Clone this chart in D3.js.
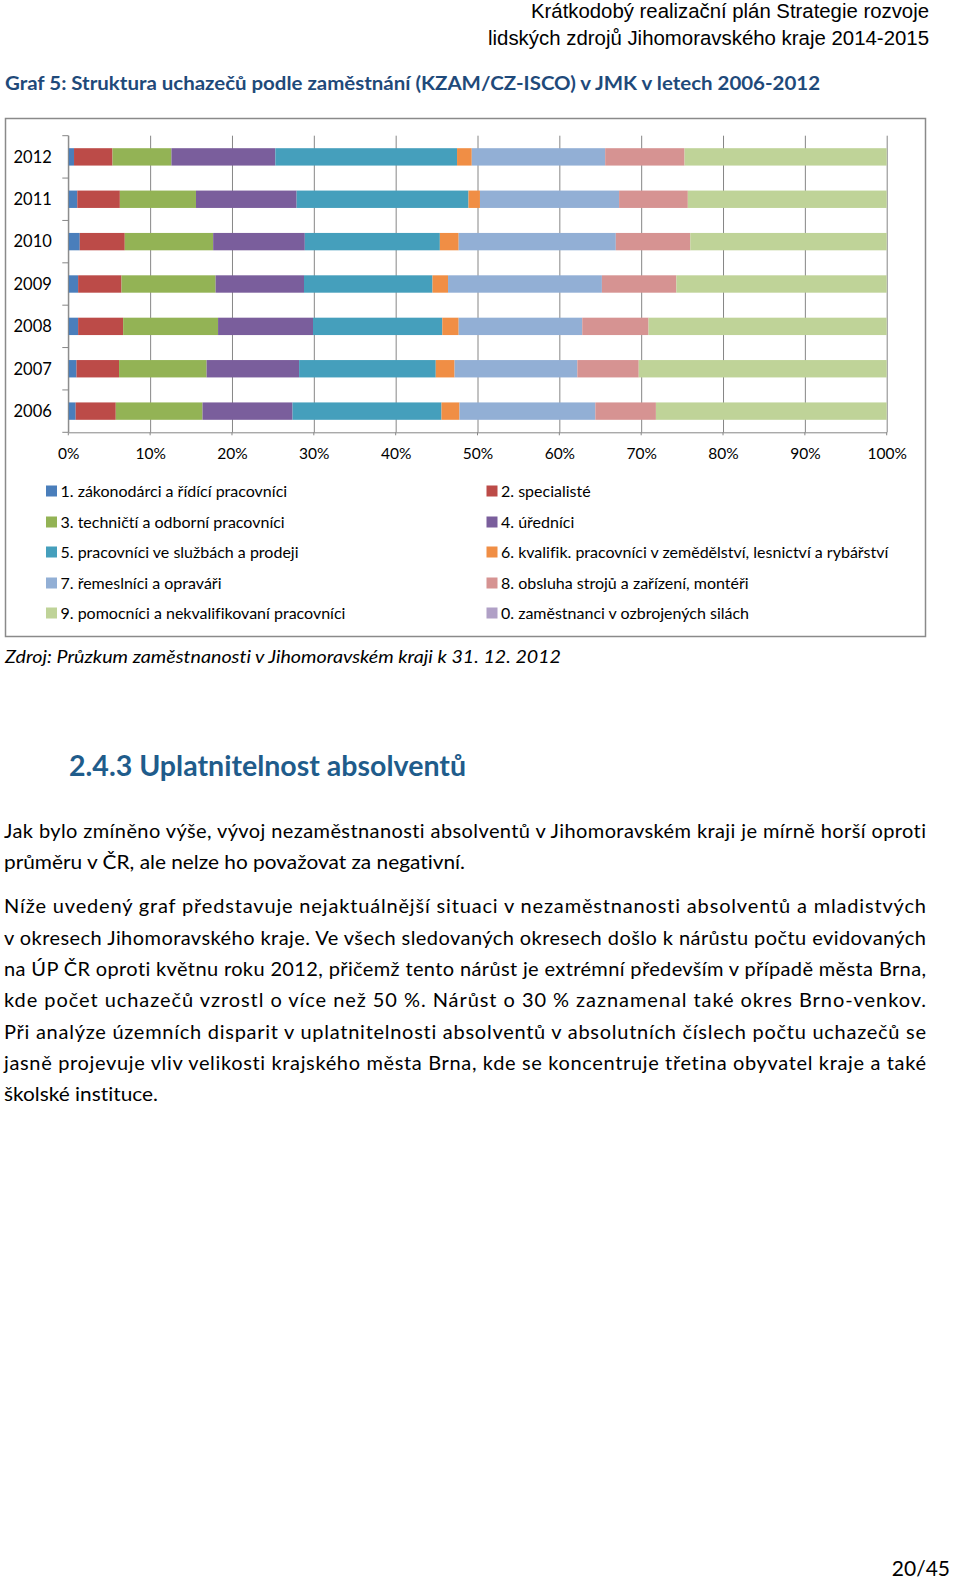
<!DOCTYPE html>
<html><head><meta charset="utf-8">
<script src="https://cdn.jsdelivr.net/npm/d3@7"></script>
<style>body{margin:0;background:#fff} svg{display:block} text{font-variant-ligatures:none;font-feature-settings:"liga" 0,"clig" 0}</style>
</head><body>
<svg id="page" width="960" height="1582"></svg>
<script>
// ---------- DATA ----------
const years = ["2006","2007","2008","2009","2010","2011","2012"];
const s1 = [0.9, 1.0, 1.2, 1.2, 1.4, 1.1, 0.7];
const s2 = [4.9, 5.2, 5.5, 5.3, 5.5, 5.2, 4.7];
const s3 = [10.6, 10.7, 11.6, 11.5, 10.8, 9.3, 7.2];
const s4 = [11.0, 11.3, 11.6, 10.8, 11.2, 12.3, 12.7];
const s5 = [18.2, 16.7, 15.8, 15.7, 16.5, 21.0, 22.2];
const s6 = [2.2, 2.3, 2.0, 1.9, 2.3, 1.4, 1.8];
const s7 = [16.6, 15.0, 15.1, 18.8, 19.2, 17.0, 16.3];
const s8 = [7.4, 7.5, 8.1, 9.1, 9.1, 8.4, 9.7];
const s9 = [28.2, 30.3, 29.1, 25.7, 24.0, 24.3, 24.7];
const s0 = [0, 0, 0, 0, 0, 0, 0];
const seriesNames = [
  "1. zákonodárci a řídící pracovníci",
  "2. specialisté",
  "3. techničtí a odborní pracovníci",
  "4. úředníci",
  "5. pracovníci ve službách a prodeji",
  "6. kvalifik. pracovníci v zemědělství, lesnictví a rybářství",
  "7. řemeslníci a opraváři",
  "8. obsluha strojů a zařízení, montéři",
  "9. pomocníci a nekvalifikovaní pracovníci",
  "0. zaměstnanci  v ozbrojených silách"
];
const seriesColors = ["#4A7EBB","#BC4B48","#93B355","#7A5E9C","#459FBC","#F08E45","#92AFD5","#D69392","#BFD398","#B0A0C6"];
const xTicks = [0,0.1,0.2,0.3,0.4,0.5,0.6,0.7,0.8,0.9,1.0];

const headerLines = ["Krátkodobý realizační plán Strategie rozvoje","lidských zdrojů Jihomoravského kraje 2014-2015"];
const chartTitle = "Graf 5: Struktura uchazečů podle zaměstnání (KZAM/CZ-ISCO) v JMK v letech 2006-2012";
const sourceText = "Zdroj: Průzkum zaměstnanosti v Jihomoravském kraji k 31. 12. 2012";
const heading = "2.4.3 Uplatnitelnost absolventů";
const bodyLines = [
  "Jak bylo zmíněno výše, vývoj nezaměstnanosti absolventů v Jihomoravském kraji je mírně horší oproti",
  "průměru v ČR, ale nelze ho považovat za negativní.",
  "Níže uvedený graf představuje nejaktuálnější situaci v nezaměstnanosti absolventů a mladistvých",
  "v okresech Jihomoravského kraje. Ve všech sledovaných okresech došlo k nárůstu počtu evidovaných",
  "na ÚP ČR oproti květnu roku 2012, přičemž tento nárůst je extrémní především v případě města Brna,",
  "kde počet uchazečů vzrostl o více než 50 %. Nárůst o 30 % zaznamenal také okres Brno-venkov.",
  "Při analýze územních disparit v uplatnitelnosti absolventů v absolutních číslech počtu uchazečů se",
  "jasně projevuje vliv velikosti krajského města Brna, kde se koncentruje třetina obyvatel kraje a také",
  "školské instituce."
];
const pageNumber = "20/45";

// ---------- BUILD ----------
const svg = d3.select("#page");
const bodyFont = "Lato, 'Open Sans', sans-serif";

function txt(x, y, s, o) {
  const t = svg.append("text").attr("x", x).attr("y", y).text(s)
    .attr("font-family", o.ff || bodyFont)
    .attr("font-size", o.fs)
    .attr("fill", o.fill || "#000");
  if (o.fw) t.attr("font-weight", o.fw);
  if (o.fst) t.attr("font-style", o.fst);
  if (o.anchor) t.attr("text-anchor", o.anchor);
  if (o.len) t.attr("textLength", o.len).attr("lengthAdjust", o.adj || "spacingAndGlyphs");
  return t;
}

// header
const narrow = "'Liberation Sans Narrow', 'Arial Narrow', 'Liberation Sans', sans-serif";
txt(929, 18, headerLines[0], {ff: narrow, fs: 20.5, anchor: "end", len: 398});
txt(929, 45, headerLines[1], {ff: narrow, fs: 20.5, anchor: "end", len: 441});

// title
txt(5, 90, chartTitle, {fs: 19, fw: "bold", fill: "#1F4A7A", len: 815});

// chart frame
svg.append("rect").attr("x", 5.5).attr("y", 118.5).attr("width", 920).attr("height", 518)
  .attr("fill", "#fff").attr("stroke", "#8a8a8a").attr("stroke-width", 1.5);

const plotTop = 135.7, plotBottom = 432.3, plotLeft = 68.3, plotRight = 886.7;
const x = d3.scaleLinear().domain([0, 1]).range([plotLeft, plotRight]);
const yOrder = years.slice().reverse();
const y = d3.scaleBand().domain(yOrder).range([plotTop, plotBottom]).paddingInner(0.59).paddingOuter(0.295);

// table
const keys = ["1","2","3","4","5","6","7","8","9","0"];
const seriesArr = [s1,s2,s3,s4,s5,s6,s7,s8,s9,s0];
const table = years.map((yr, i) => {
  const row = {year: yr};
  keys.forEach((k, j) => row[k] = seriesArr[j][i]);
  return row;
});
const stack = d3.stack().keys(keys).offset(d3.stackOffsetExpand);
const stacked = stack(table);

// gridlines + bottom axis
const gx = svg.append("g").attr("transform", `translate(0,${plotBottom})`)
  .call(d3.axisBottom(x).tickValues(xTicks).tickFormat(d3.format(".0%"))
    .tickSizeInner(-(plotBottom - plotTop)).tickSizeOuter(0).tickPadding(16));
gx.select(".domain").attr("stroke", "#868686").attr("stroke-width", 1);
gx.selectAll(".tick line").attr("stroke", "#868686").attr("stroke-width", 1);
gx.selectAll(".tick text").attr("font-family", bodyFont).attr("font-size", 15.5).attr("fill", "#000");
svg.append("g").selectAll("line").data(xTicks).join("line")
  .attr("x1", d => x(d)).attr("x2", d => x(d))
  .attr("y1", plotBottom).attr("y2", plotBottom + 3)
  .attr("stroke", "#868686");

// bars
svg.append("g").selectAll("g").data(stacked).join("g")
  .attr("fill", (d, i) => seriesColors[i])
  .selectAll("rect").data(d => d).join("rect")
  .attr("x", d => x(d[0]))
  .attr("width", d => Math.max(0, x(d[1]) - x(d[0])))
  .attr("y", d => y(d.data.year))
  .attr("height", y.bandwidth());

// left axis
const gy = svg.append("g").attr("transform", `translate(${plotLeft},0)`);
gy.append("line").attr("x1", 0).attr("x2", 0).attr("y1", plotTop).attr("y2", plotBottom)
  .attr("stroke", "#868686");
gy.selectAll("line.tk").data(d3.range(0, yOrder.length + 1)).join("line").attr("class", "tk")
  .attr("x1", -6).attr("x2", 0)
  .attr("y1", k => plotTop + k * (plotBottom - plotTop) / yOrder.length)
  .attr("y2", k => plotTop + k * (plotBottom - plotTop) / yOrder.length)
  .attr("stroke", "#868686");
gy.selectAll("text").data(yOrder).join("text")
  .attr("x", -16.5).attr("y", d => y(d) + y.bandwidth() / 2).attr("dy", "0.35em")
  .attr("text-anchor", "end").attr("font-family", bodyFont).attr("font-size", 16.5)
  .text(d => d);

// legend
const legendOrder = [[0,1],[2,3],[4,5],[6,7],[8,9]];
const rowY = [491, 522, 552, 583, 613];
const colX = [46, 486.5];
legendOrder.forEach((pair, r) => {
  pair.forEach((si, c) => {
    svg.append("rect").attr("x", colX[c]).attr("y", rowY[r] - 5.5).attr("width", 11).attr("height", 11)
      .attr("fill", seriesColors[si]);
    svg.append("text").attr("x", colX[c] + 14.5).attr("y", rowY[r]).attr("dy", "0.35em")
      .attr("font-family", bodyFont).attr("font-size", 16).text(seriesNames[si]);
  });
});

// source
txt(5, 663, sourceText, {fs: 17, fst: "italic", len: 556});

// heading
txt(69, 776, heading, {fs: 28, fw: "bold", fill: "#1F5C8B", len: 397});

// body
const bodyY = [838, 869, 913, 945, 976, 1007, 1039, 1070, 1101];
const bodyLen = [922, 461, 922, 922, 922, 922, 922, 922, 154];
bodyLines.forEach((s, i) => {
  txt(4, bodyY[i], s, {fs: 20, len: bodyLen[i], adj: (bodyLen[i] === 922 ? "spacing" : "spacingAndGlyphs")});
});

// page number
txt(950, 1576, pageNumber, {fs: 21, anchor: "end"});
</script>
</body></html>
